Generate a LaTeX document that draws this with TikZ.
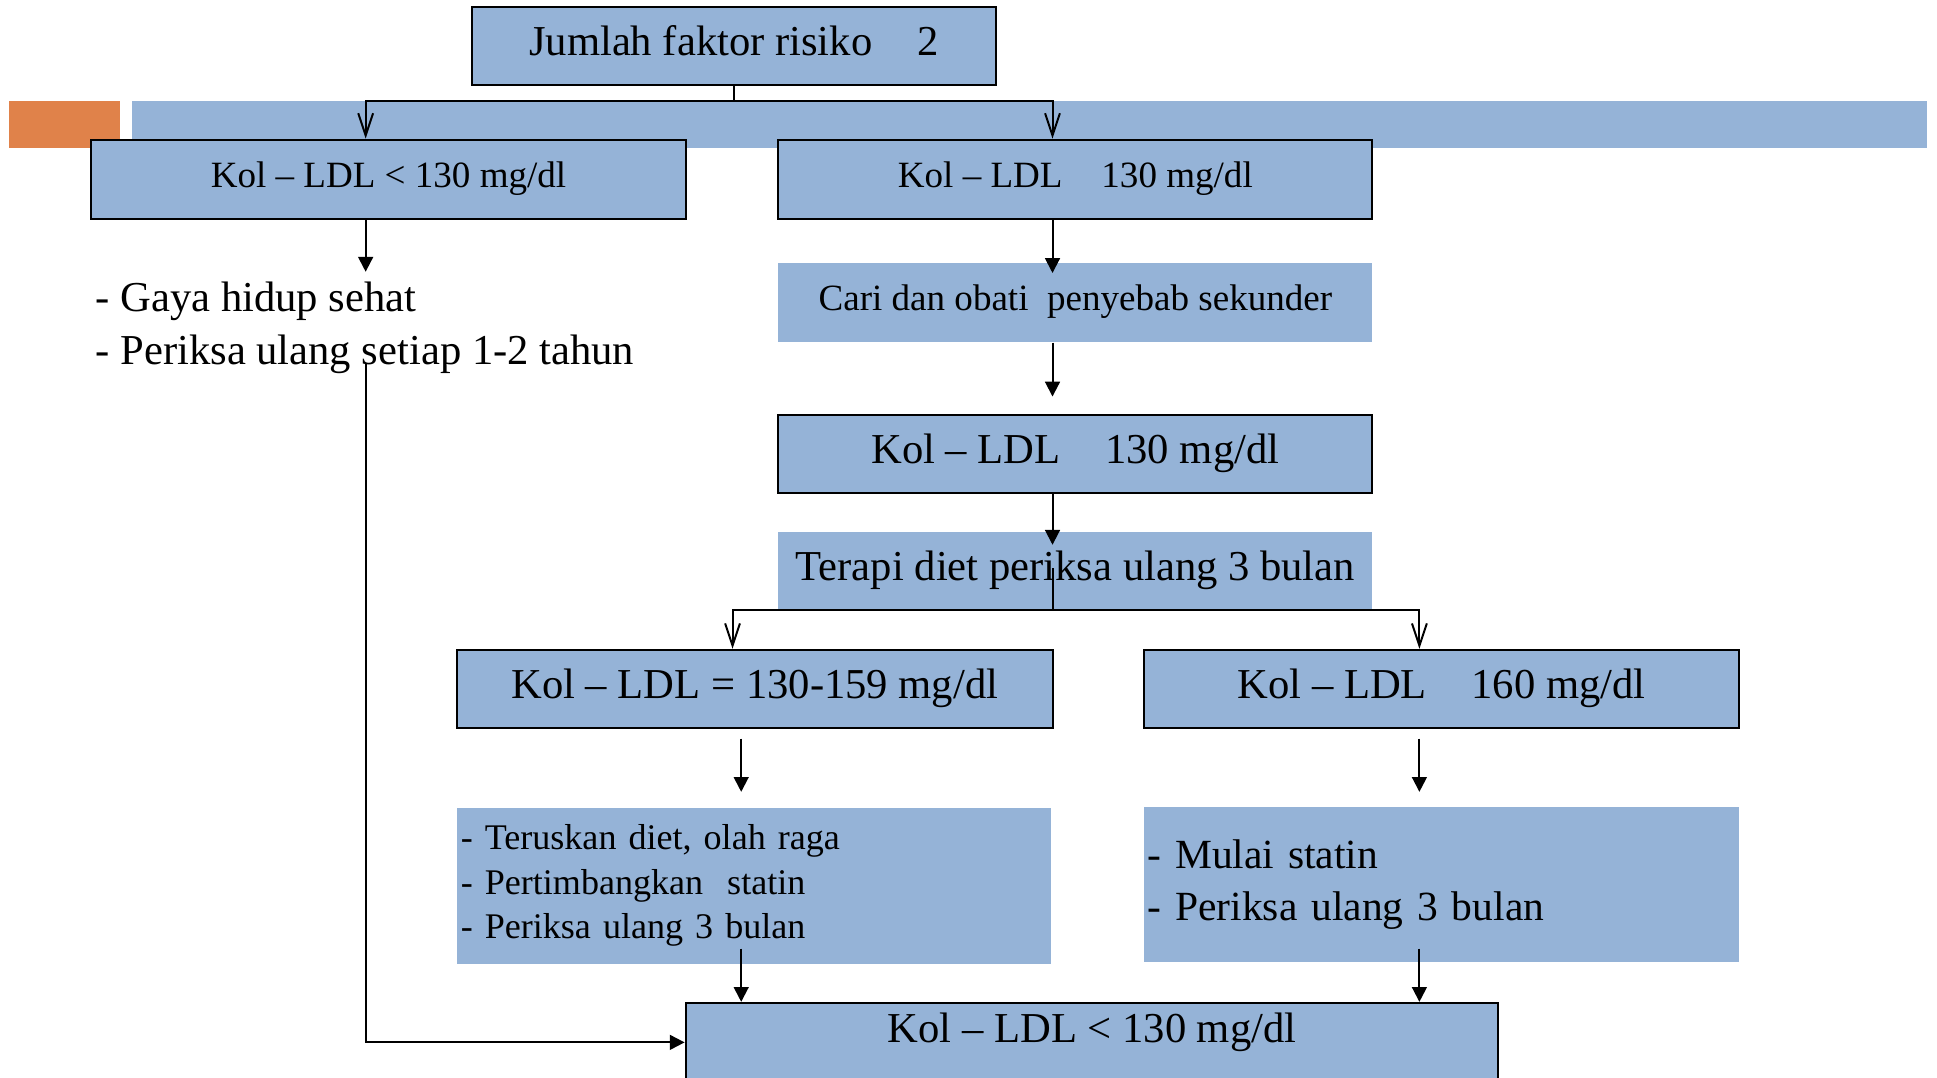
\documentclass[tikz,border=0pt]{standalone}
\usepackage{fontspec}
\setmainfont{Liberation Serif}
\usetikzlibrary{arrows.meta}
\definecolor{boxblue}{HTML}{95B3D7}
\definecolor{accorange}{HTML}{E0824A}
\newcommand\gesp{\phantom{≥}}
\begin{document}
\begin{tikzpicture}[x=0.5pt,y=-0.5pt,
  bigtext/.style={font=\fontsize{17.25pt}{21.5pt}\selectfont, text height=12.1pt, text depth=4.3pt},
  smalltext/.style={font=\fontsize{15pt}{18pt}\selectfont, text height=10.5pt, text depth=3.75pt},
  box/.style={draw=black, line width=0.8pt, fill=boxblue, inner sep=0pt},
  plainbox/.style={fill=boxblue, inner sep=0pt},
  conn/.style={line width=0.8pt},
  farr/.style={conn,-{Triangle[length=6pt,width=6pt]}},
  obarb/.style={conn,{Straight Barb[length=9pt,width=6pt]}-{Straight Barb[length=9pt,width=6pt]}},
]
\useasboundingbox (0,0) rectangle (1568,872);
% decorative band
\fill[accorange] (7,82) rectangle (97,120);
\fill[boxblue] (107,82) rectangle (1560,120);

% nodes
\node[box, bigtext, minimum width=212pt, minimum height=31.5pt] (top) at (594,37.5) {Jumlah faktor risiko \gesp{} 2};
\node[box, smalltext, minimum width=240.5pt, minimum height=32pt] (L1) at (314.5,145) {Kol – LDL < 130 mg/dl};
\node[box, smalltext, minimum width=240.5pt, minimum height=32pt] (R1) at (870.5,145) {Kol – LDL \gesp{} 130 mg/dl};
\node[plainbox, smalltext, minimum width=240.5pt, minimum height=32pt] (cari) at (870.5,245) {Cari dan obati\ \ penyebab sekunder};
\node[box, bigtext, minimum width=240.5pt, minimum height=31.5pt] (K3) at (870.5,367.5) {Kol – LDL \gesp{} 130 mg/dl};
\node[plainbox, bigtext, minimum width=240.5pt, minimum height=31pt] (terapi) at (870.5,462) {Terapi diet periksa ulang 3 bulan};
\node[box, bigtext, minimum width=241pt, minimum height=31.5pt] (LA) at (611,557.5) {Kol – LDL = 130-159 mg/dl};
\node[box, bigtext, minimum width=241pt, minimum height=31.5pt] (LB) at (1167,557.5) {Kol – LDL \gesp{} 160 mg/dl};
\node[plainbox, font=\fontsize{14.6pt}{18pt}\selectfont, align=left, text width=237.5pt, inner xsep=1.5pt, minimum height=63pt] (TA) at (610.5,717)
  {- Teruskan diet, olah raga\\- Pertimbangkan\ \ statin\\- Periksa ulang 3 bulan};
\node[plainbox, font=\fontsize{16.8pt}{21pt}\selectfont, align=left, text width=238pt, inner xsep=1.5pt, minimum height=63pt] (MB) at (1167,716)
  {- Mulai statin\\- Periksa ulang 3 bulan};
\node[box, font=\fontsize{17.25pt}{21.5pt}\selectfont, anchor=north, minimum width=329pt, text height=16pt, text depth=30pt] (bot) at (884,811) {Kol – LDL < 130 mg/dl};
\node[font=\fontsize{17.25pt}{21.5pt}\selectfont, anchor=base west, inner sep=0pt] (gaya1) at (77,252) {- Gaya hidup sehat};
\node[font=\fontsize{17.25pt}{21.5pt}\selectfont, anchor=base west, inner sep=0pt] (gaya2) at (77,295) {- Periksa ulang setiap 1-2 tahun};

% coordinates
\coordinate (brL) at (296,82);
\coordinate (brR) at (852,82);
\coordinate (tipG) at (296,220);
\coordinate (lp) at (296,295);
\coordinate (tC) at (852,221);
\coordinate (tK) at (852,321);
\coordinate (tT) at (852,441);
\coordinate (tb) at (852,460);
\coordinate (bA) at (593,494);
\coordinate (bB) at (1149,494);
\coordinate (sA) at (600,598);
\coordinate (eA) at (600,641);
\coordinate (sB) at (1149,598);
\coordinate (eB) at (1149,641);
\coordinate (uA) at (600,768);
\coordinate (uB) at (1149,768);

% connectors
\draw[conn] (top.south) -- (top.south |- brL);
\draw[obarb] (brL |- L1.north) -- (brL) -- (brR) -- (brR |- R1.north);
\draw[farr] (brL |- L1.south) -- (tipG);
\draw[farr] (lp) |- (bot.base west);
\draw[farr] (brR |- R1.south) -- (tC);
\draw[farr] (brR |- cari.south) -- (tK);
\draw[farr] (brR |- K3.south) -- (tT);
\draw[conn] (tb) -- (tb |- bA);
\draw[obarb] (bA |- LA.north) -- (bA) -- (bB) -- (bB |- LB.north);
\draw[farr] (sA) -- (eA);
\draw[farr] (sB) -- (eB);
\draw[farr] (uA) -- (uA |- bot.north);
\draw[farr] (uB) -- (uB |- bot.north);
\end{tikzpicture}
\end{document}
